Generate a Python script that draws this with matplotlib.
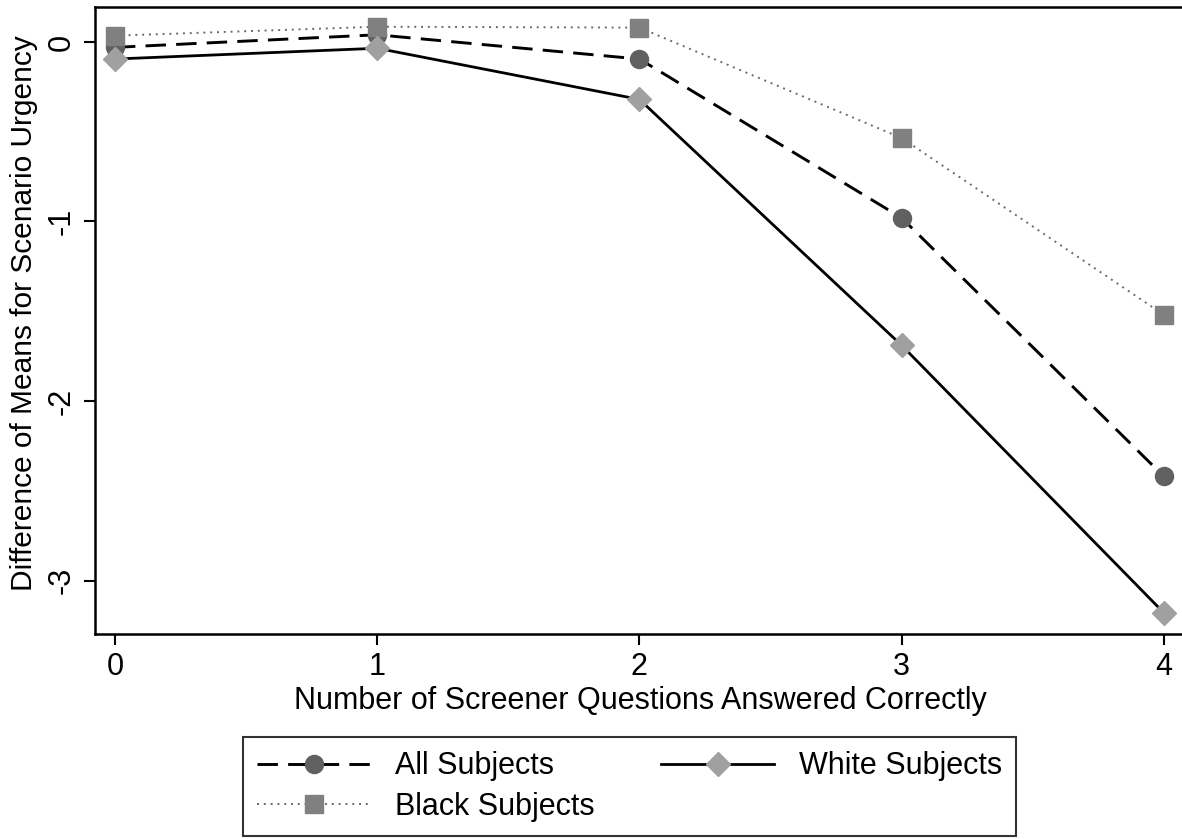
import matplotlib
matplotlib.use("Agg")
import matplotlib.pyplot as plt

# values
questions = [0, 1, 2, 3, 4]
all_subjects = [-0.03, 0.04, -0.095, -0.98, -2.42]
white_subjects = [-0.095, -0.035, -0.32, -1.69, -3.18]
black_subjects = [0.035, 0.085, 0.08, -0.535, -1.52]

x_ticks = [0, 1, 2, 3, 4]
y_ticks = [0, -1, -2, -3]

plt.rcParams["font.family"] = ["Liberation Sans", "DejaVu Sans"]

fig = plt.figure(figsize=(11.82, 8.39), dpi=100)
ax = fig.add_axes([0.0804, 0.2443, 0.922, 0.7474])

ax.plot(questions, all_subjects, linestyle=(0, (7, 3.5)), color="black", linewidth=2.1,
        marker="o", markersize=13, markerfacecolor="#606060", markeredgecolor="#606060",
        label="All Subjects", zorder=3)
ax.plot(questions, black_subjects, linestyle=(0, (1, 2.5)), color="#6a6a6a", linewidth=1.4,
        marker="s", markersize=13, markerfacecolor="#808080", markeredgecolor="#808080",
        label="Black Subjects", zorder=3)
ax.plot(questions, white_subjects, linestyle="-", color="black", linewidth=2.0,
        marker="D", markersize=12, markerfacecolor="#a0a0a0", markeredgecolor="#a0a0a0",
        label="White Subjects", zorder=4)

ax.set_xlim(-0.076, 4.08)
ax.set_ylim(-3.298, 0.195)
ax.set_xticks(x_ticks)
ax.set_yticks(y_ticks)
ax.set_yticklabels([str(v) for v in y_ticks], rotation=90, va="center")
ax.tick_params(axis="both", labelsize=22, length=8, width=1.5, direction="out")
ax.tick_params(axis="x", pad=5)
ax.tick_params(axis="y", pad=5)
for side in ax.spines.values():
    side.set_linewidth(1.8)
ax.spines["right"].set_visible(False)

ax.set_xlabel("Number of Screener Questions Answered Correctly", fontsize=22, labelpad=3)
ax.set_ylabel("Difference of Means for Scenario Urgency", fontsize=21.5)
ax.yaxis.set_label_coords(-0.052, 0.512)

leg = fig.legend(loc="lower left", bbox_to_anchor=(243 / 1182, 3 / 839),
                 ncol=2, fontsize=22, handlelength=3.7, handletextpad=0.8,
                 columnspacing=2.2, labelspacing=0.35, borderpad=0.46, borderaxespad=0,
                 frameon=True, fancybox=False, edgecolor="black")
leg.get_frame().set_linewidth(1.5)

fig.savefig("out.png", dpi=100)
